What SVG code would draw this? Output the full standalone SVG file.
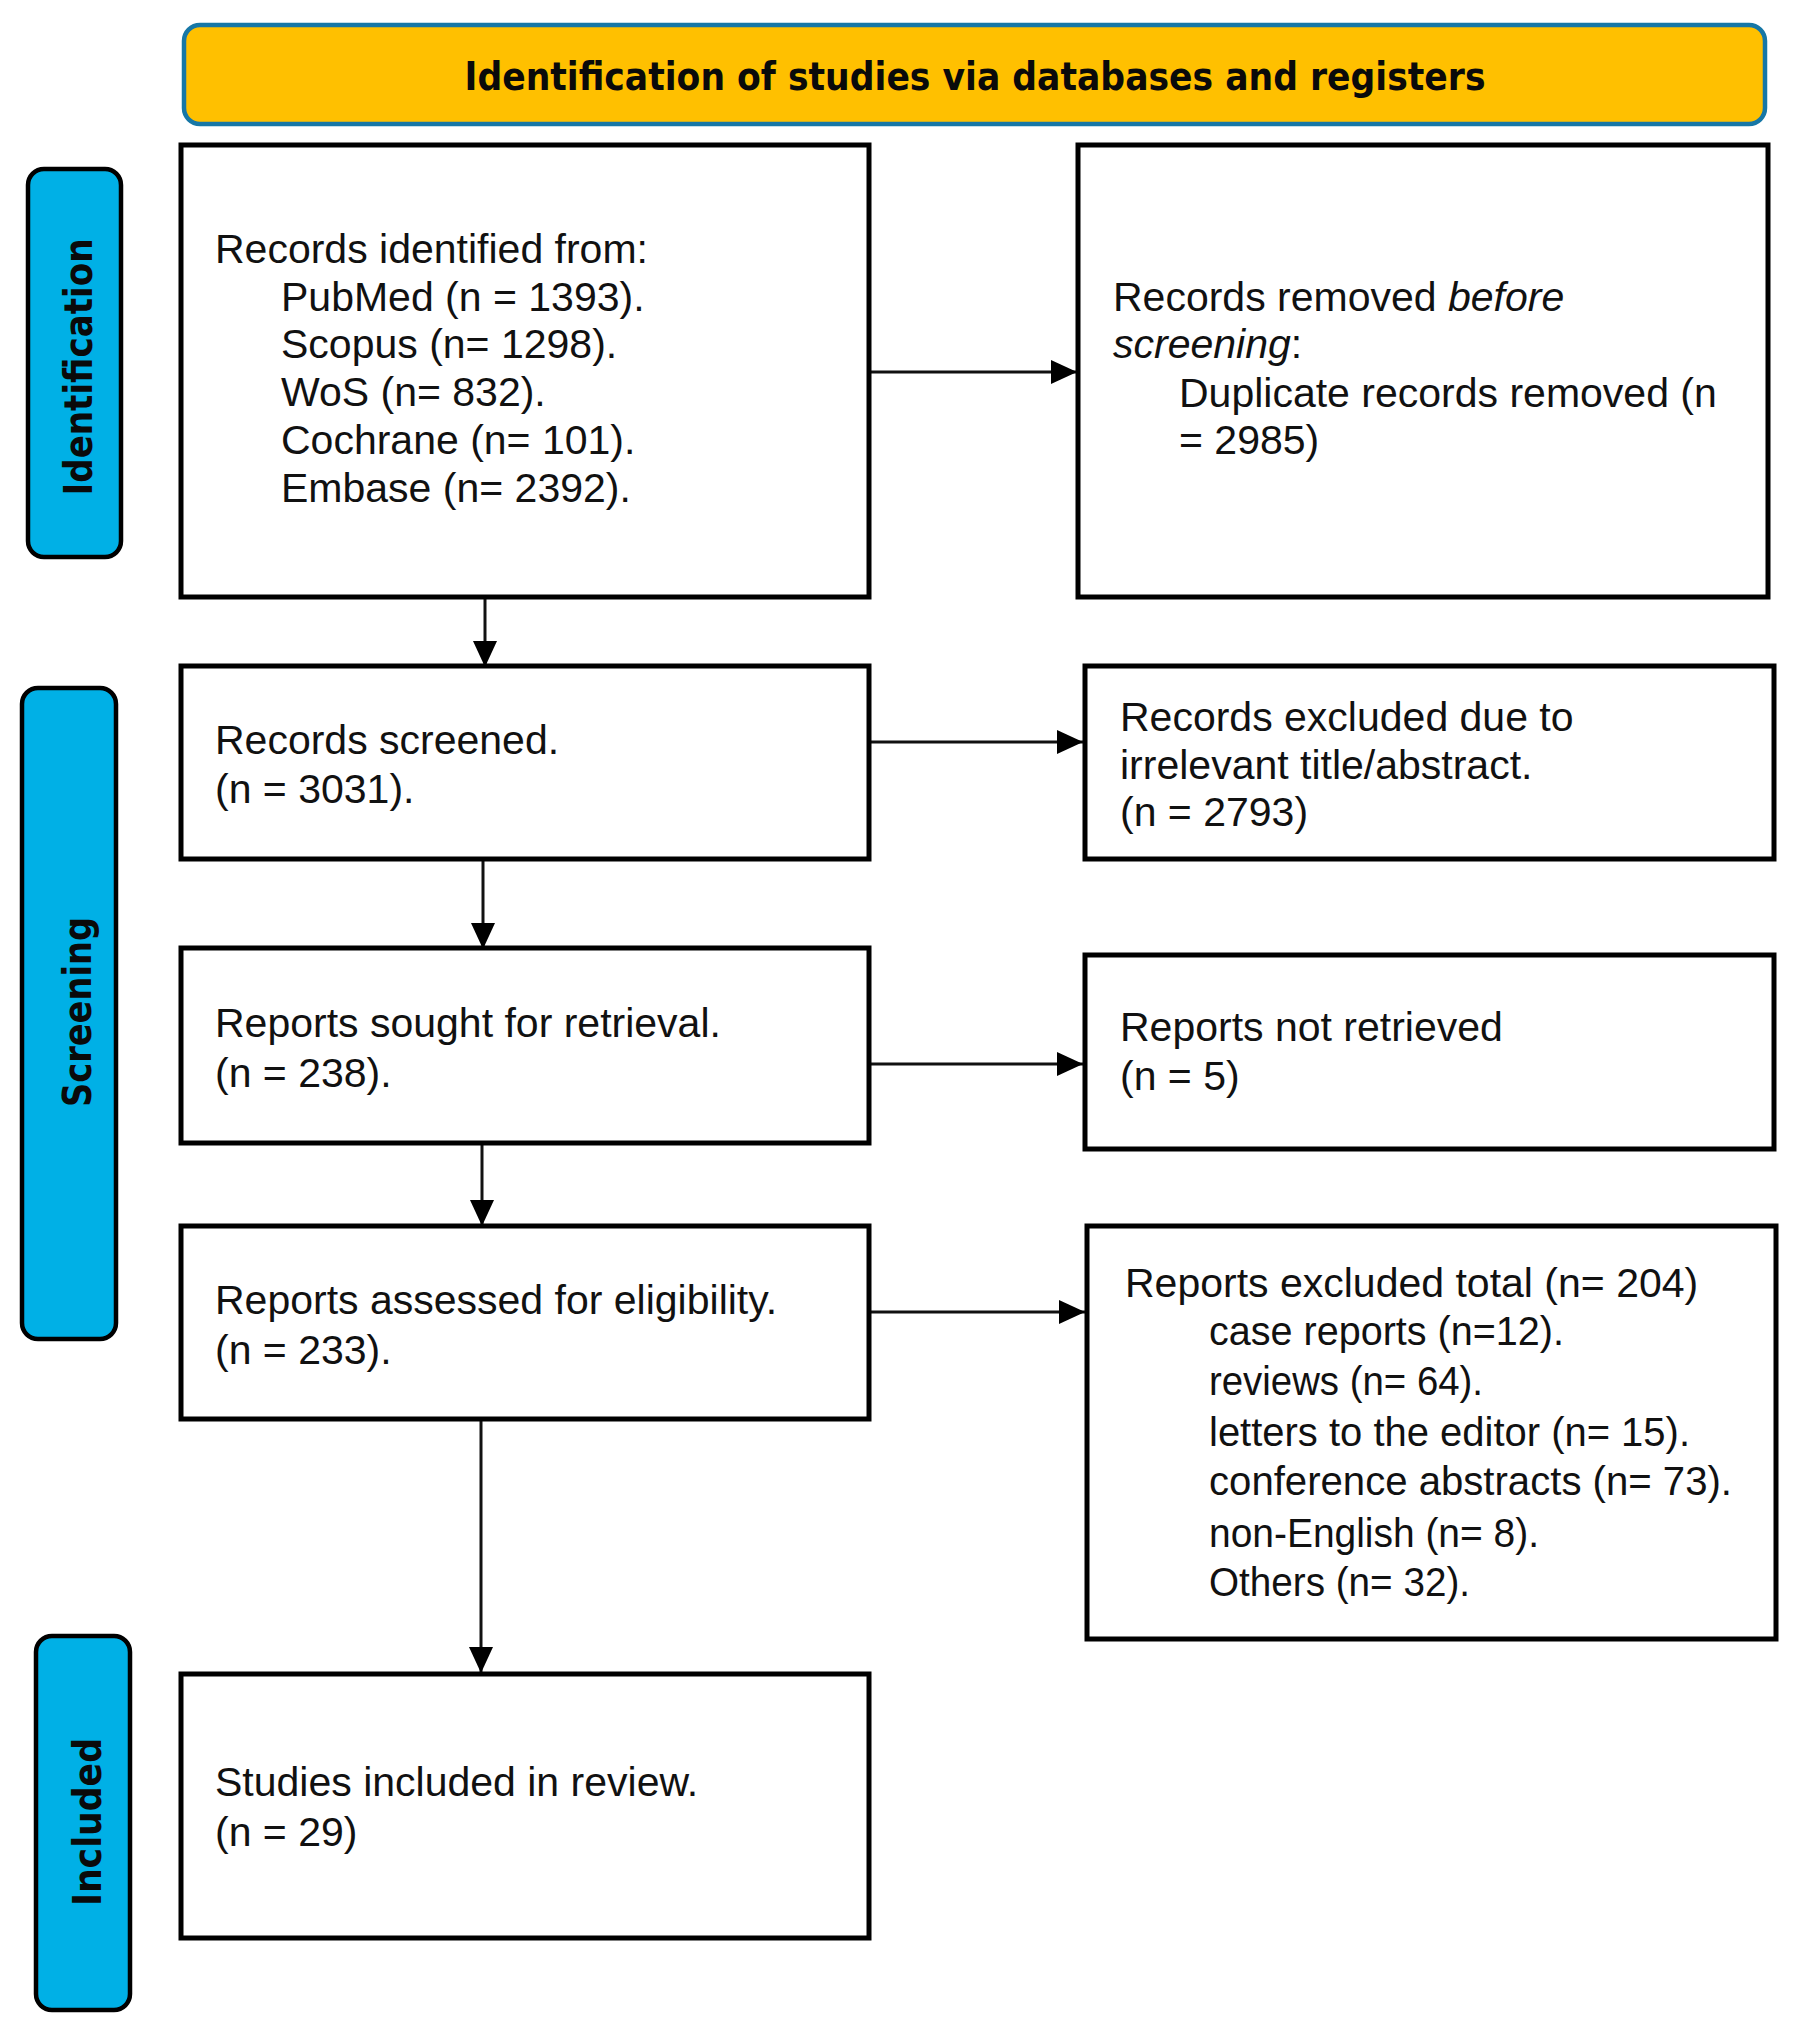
<svg xmlns="http://www.w3.org/2000/svg" width="1799" height="2036" viewBox="0 0 1799 2036">
<style>
.box{fill:#fff;stroke:#000;stroke-width:5}
.side{fill:#00B0E6;stroke:#000;stroke-width:4.5}
.head{fill:#FFC000;stroke:#1777A6;stroke-width:4.5}
.t{font-family:"Liberation Sans",Arial,sans-serif;font-size:41px;fill:#111}
.s{font-family:"Liberation Sans",Arial,sans-serif;font-size:40px;fill:#111}
.b{font-family:"DejaVu Sans",Verdana,sans-serif;font-weight:bold;font-size:39px;fill:#0a0a0a}
.c{stroke:#111;stroke-width:3;fill:none}
</style>
<defs>
<marker id="ah" markerUnits="userSpaceOnUse" markerWidth="26" markerHeight="24" refX="26" refY="12" orient="auto">
<path d="M0,0 L26,12 L0,24 Z" fill="#000"/>
</marker>
</defs>
<rect width="1799" height="2036" fill="#fff"/>

<g id="header">
<rect class="head" x="184" y="25" width="1581" height="99" rx="16"/>
<text class="b" x="975" y="90" text-anchor="middle" textLength="1021" lengthAdjust="spacingAndGlyphs">Identification of studies via databases and registers</text>
</g>

<g id="label-identification">
<rect class="side" x="28" y="169" width="93" height="388" rx="16"/>
<text class="b" transform="translate(92,367) rotate(-90)" text-anchor="middle" textLength="257" lengthAdjust="spacingAndGlyphs">Identification</text>
</g>
<g id="label-screening">
<rect class="side" x="22" y="688" width="94" height="651" rx="16"/>
<text class="b" transform="translate(91,1012) rotate(-90)" text-anchor="middle" textLength="190" lengthAdjust="spacingAndGlyphs">Screening</text>
</g>
<g id="label-included">
<rect class="side" x="36" y="1636" width="94" height="374" rx="16"/>
<text class="b" transform="translate(101,1822) rotate(-90)" text-anchor="middle" textLength="168" lengthAdjust="spacingAndGlyphs">Included</text>
</g>

<g id="connectors">
<line class="c" x1="871" y1="372" x2="1077" y2="372" marker-end="url(#ah)"/>
<line class="c" x1="871" y1="742" x2="1083" y2="742" marker-end="url(#ah)"/>
<line class="c" x1="871" y1="1064" x2="1083" y2="1064" marker-end="url(#ah)"/>
<line class="c" x1="871" y1="1312" x2="1085" y2="1312" marker-end="url(#ah)"/>
<line class="c" x1="485" y1="599" x2="485" y2="667" marker-end="url(#ah)"/>
<line class="c" x1="483" y1="861" x2="483" y2="949" marker-end="url(#ah)"/>
<line class="c" x1="482" y1="1145" x2="482" y2="1226" marker-end="url(#ah)"/>
<line class="c" x1="481" y1="1421" x2="481" y2="1673" marker-end="url(#ah)"/>
</g>

<g id="records-identified">
<rect class="box" x="181" y="145" width="688" height="452"/>
<text class="t" x="215" y="263">Records identified from:</text>
<text class="t" x="281" y="311">PubMed (n = 1393).</text>
<text class="t" x="281" y="358">Scopus (n= 1298).</text>
<text class="t" x="281" y="406">WoS (n= 832).</text>
<text class="t" x="281" y="454">Cochrane (n= 101).</text>
<text class="t" x="281" y="502">Embase (n= 2392).</text>
</g>

<g id="records-removed">
<rect class="box" x="1078" y="145" width="690" height="452"/>
<text class="t" x="1113" y="311">Records removed <tspan font-style="italic">before</tspan></text>
<text class="t" x="1113" y="358"><tspan font-style="italic">screening</tspan>:</text>
<text class="t" x="1179" y="407">Duplicate records removed (n</text>
<text class="t" x="1179" y="454">= 2985)</text>
</g>

<g id="records-screened">
<rect class="box" x="181" y="666" width="688" height="193"/>
<text class="t" x="215" y="754">Records screened.</text>
<text class="t" x="215" y="803">(n = 3031).</text>
</g>

<g id="records-excluded">
<rect class="box" x="1085" y="666" width="689" height="193"/>
<text class="t" x="1120" y="731">Records excluded due to</text>
<text class="t" x="1120" y="779">irrelevant title/abstract.</text>
<text class="t" x="1120" y="826">(n = 2793)</text>
</g>

<g id="reports-sought">
<rect class="box" x="181" y="948" width="688" height="195"/>
<text class="t" x="215" y="1037">Reports sought for retrieval.</text>
<text class="t" x="215" y="1087">(n = 238).</text>
</g>

<g id="reports-not-retrieved">
<rect class="box" x="1085" y="955" width="689" height="194"/>
<text class="t" x="1120" y="1041">Reports not retrieved</text>
<text class="t" x="1120" y="1090">(n = 5)</text>
</g>

<g id="reports-assessed">
<rect class="box" x="181" y="1226" width="688" height="193"/>
<text class="t" x="215" y="1314">Reports assessed for eligibility.</text>
<text class="t" x="215" y="1364">(n = 233).</text>
</g>

<g id="reports-excluded">
<rect class="box" x="1087" y="1226" width="689" height="413"/>
<text class="t" x="1125" y="1297">Reports excluded total (n= 204)</text>
<text class="s" x="1209" y="1345" textLength="355" lengthAdjust="spacingAndGlyphs">case reports (n=12).</text>
<text class="s" x="1209" y="1395" textLength="274" lengthAdjust="spacingAndGlyphs">reviews (n= 64).</text>
<text class="s" x="1209" y="1446" textLength="481" lengthAdjust="spacingAndGlyphs">letters to the editor (n= 15).</text>
<text class="s" x="1209" y="1495" textLength="523" lengthAdjust="spacingAndGlyphs">conference abstracts (n= 73).</text>
<text class="s" x="1209" y="1547" textLength="330" lengthAdjust="spacingAndGlyphs">non-English (n= 8).</text>
<text class="s" x="1209" y="1596" textLength="261" lengthAdjust="spacingAndGlyphs">Others (n= 32).</text>
</g>

<g id="studies-included">
<rect class="box" x="181" y="1674" width="688" height="264"/>
<text class="t" x="215" y="1796">Studies included in review.</text>
<text class="t" x="215" y="1846">(n = 29)</text>
</g>
</svg>
